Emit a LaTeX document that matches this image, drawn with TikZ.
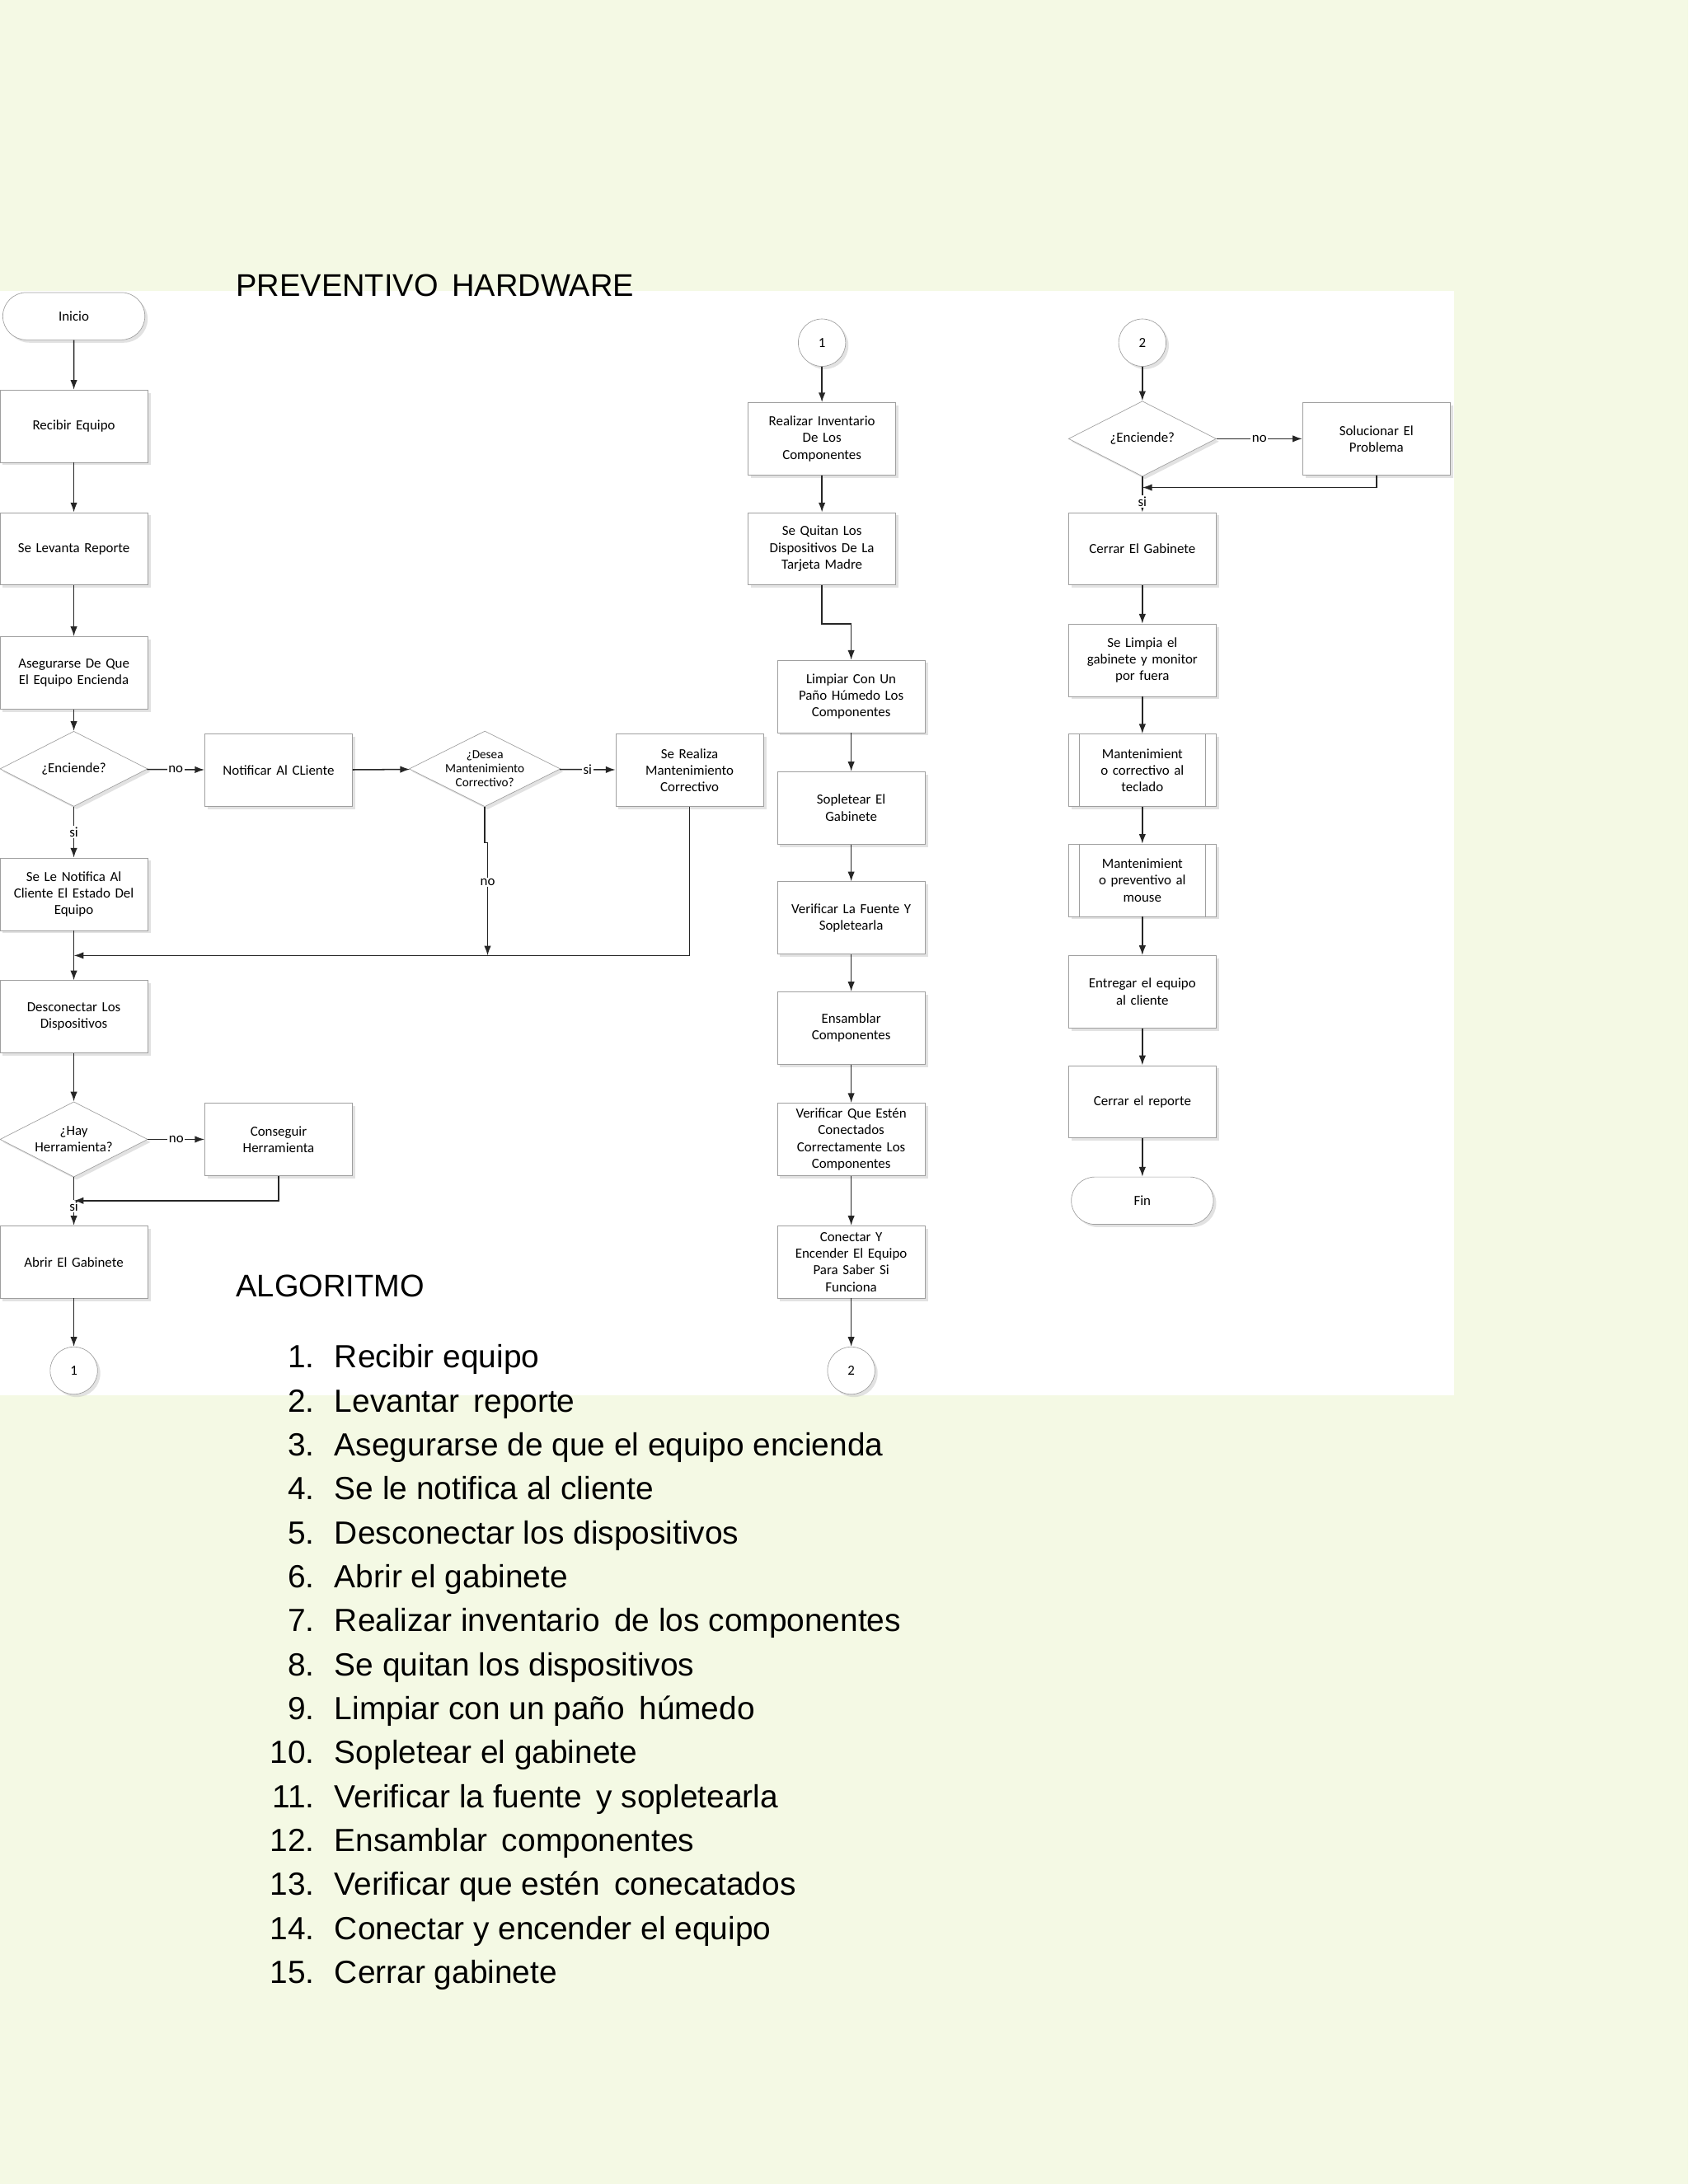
\documentclass[tikz,border=0pt]{standalone}
\usepackage{fontspec}
\setmainfont{Liberation Sans}
\newfontfamily\flow{Carlito}
\usetikzlibrary{shapes.geometric,shapes.misc,shadows,arrows.meta}
\begin{document}
\begin{tikzpicture}[x=1pt,y=-1pt,
 base/.style={draw=gray!75, fill=white, align=center, font=\flow\fontsize{10}{12}\selectfont, drop shadow={shadow xshift=2pt,shadow yshift=-2pt,fill=gray!45}, inner sep=2pt},
 box/.style={base, minimum width=106pt, minimum height=52pt, text width=100pt},
 dia/.style={base, diamond, aspect=2, minimum width=106pt, minimum height=54pt, inner sep=0pt},
 term/.style={base, rounded rectangle, minimum width=106pt, minimum height=34pt},
 con/.style={base, circle, minimum size=34pt, inner sep=0pt},
 ar/.style={draw=gray!30!black, line width=0.9pt, -{Latex[length=7pt,width=5pt]}},
 ln/.style={draw=gray!30!black, line width=0.9pt},
 lab/.style={fill=white, font=\flow\fontsize{10}{12}\selectfont, inner sep=1pt}]
\useasboundingbox (0,0) rectangle (1212,1568);
\fill[fill={rgb,255:red,244;green,249;blue,228}] (0,0) rectangle (1212,1568);
\fill[white] (0,209) rectangle (1044,1002);
\node[anchor=base west, font=\fontsize{22.5}{26}\selectfont] (t1) at (166,213) {PREVENTIVO\, HARDWARE};
\node[anchor=base west, font=\fontsize{22.5}{26}\selectfont] (t2) at (166,931) {ALGORITMO};
\foreach \i/\t in {1/Recibir equipo,2/Levantar\, reporte,3/Asegurarse de que el equipo encienda,4/Se le notifica al cliente,5/Desconectar los dispositivos,6/Abrir el gabinete,7/Realizar inventario\, de los componentes,8/Se quitan los dispositivos,9/Limpiar con un pa\~no\, h\'umedo,10/Sopletear el gabinete,11/Verificar la fuente\, y sopletearla,12/Ensamblar\, componentes,13/Verificar que est\'en\, conecatados,14/Conectar y encender el equipo,15/Cerrar gabinete}{
 \node[anchor=base east, font=\fontsize{23}{26}\selectfont, inner sep=0pt] (n\i) at (226,{982+(\i-1)*31.57}) {\i.};
 \node[anchor=base west, font=\fontsize{23}{26}\selectfont, inner sep=0pt] (l\i) at (240,{982+(\i-1)*31.57}) {\t};
}
% column 1
\node[term] (ini) at (53,227) {Inicio};
\node[box] (rec) at (53,306) {Recibir Equipo};
\node[box] (lev) at (53,394) {Se Levanta Reporte};
\node[box] (ase) at (53,483) {Asegurarse De Que\\El Equipo Encienda};
\node[dia] (enc) at (53,552) {¿Enciende?};
\node[box] (not) at (53,642) {Se Le Notifica Al\\Cliente El Estado Del\\Equipo};
\node[box] (des) at (53,730) {Desconectar Los\\Dispositivos};
\node[dia] (hay) at (53,818) {¿Hay\\Herramienta?};
\node[box] (abr) at (53,906) {Abrir El Gabinete};
\node[con] (c1a) at (53,984) {1};
\node[box] (ncl) at (200,553) {Notificar Al CLiente};
\node[dia, font=\flow\fontsize{9}{10}\selectfont] (dmc) at (348,552) {¿Desea\\Mantenimiento\\Correctivo?};
\node[box] (srm) at (495,553) {Se Realiza\\Mantenimiento\\Correctivo};
\node[box] (cons) at (200,818) {Conseguir\\Herramienta};
% column 2
\node[con] (c1b) at (590,246) {1};
\node[box] (inv) at (590,315) {Realizar Inventario\\De Los\\Componentes};
\node[box] (qui) at (590,394) {Se Quitan Los\\Dispositivos De La\\Tarjeta Madre};
\node[box] (lim) at (611,500) {Limpiar Con Un\\Paño Húmedo Los\\Componentes};
\node[box] (sop) at (611,580) {Sopletear El\\Gabinete};
\node[box] (vfu) at (611,659) {Verificar La Fuente Y\\Sopletearla};
\node[box] (ens) at (611,738) {Ensamblar\\Componentes};
\node[box] (vqe) at (611,818) {Verificar Que Estén\\Conectados\\Correctamente Los\\Componentes};
\node[box] (cye) at (611,906) {Conectar Y\\Encender El Equipo\\Para Saber Si\\Funciona};
\node[con] (c2a) at (611,984) {2};
% column 3
\node[con] (c2b) at (820,246) {2};
\node[dia] (enc2) at (820,315) {¿Enciende?};
\node[box] (sol) at (988,315) {Solucionar El\\Problema};
\node[box] (ceg) at (820,394) {Cerrar El Gabinete};
\node[box] (slg) at (820,474) {Se Limpia el\\gabinete y monitor\\por fuera};
\node[box, text width=80pt] (mc) at (820,553) {Mantenimient\\o correctivo al\\teclado};
\node[box, text width=80pt] (mp) at (820,632) {Mantenimient\\o preventivo al\\mouse};
\node[box] (ent) at (820,712) {Entregar el equipo\\al cliente};
\node[box] (cer) at (820,791) {Cerrar el reporte};
\node[term] (fin) at (820,862) {Fin};
\foreach \n in {mc,mp}{
 \draw[gray!75] ([xshift=8pt]\n.north west) -- ([xshift=8pt]\n.south west);
 \draw[gray!75] ([xshift=-8pt]\n.north east) -- ([xshift=-8pt]\n.south east);
}
% coordinates
\coordinate (j1) at (53,686);
\coordinate (j2) at (53,862);
\coordinate (j3) at (820,350);
% edges col 1
\draw[ar] (ini) -- (rec);
\draw[ar] (rec) -- (lev);
\draw[ar] (lev) -- (ase);
\draw[ar] (ase) -- (enc);
\draw[ar] (enc) -- node[lab]{no} (ncl);
\draw[ar] (ncl) -- (dmc);
\draw[ar] (dmc) -- node[lab]{si} (srm);
\draw[ar] (enc) -- node[lab]{si} (not);
\draw[ar] (dmc.south) -- (348,605) -- (350,605) -- node[lab,pos=0.35]{no} (350,686);
\draw[ar] (srm.south) |- (j1);
\draw[ar] (not) -- (des);
\draw[ar] (des) -- (hay);
\draw[ar] (hay) -- node[lab]{no} (cons);
\draw[ar] (hay) -- node[lab,pos=0.6]{si} (abr);
\draw[ar] (cons.south) |- (j2);
\draw[ar] (abr) -- (c1a);
% col 2
\draw[ar] (c1b) -- (inv);
\draw[ar] (inv) -- (qui);
\draw[ar] (qui.south) -- (590,448) -| (lim.north);
\draw[ar] (lim) -- (sop);
\draw[ar] (sop) -- (vfu);
\draw[ar] (vfu) -- (ens);
\draw[ar] (ens) -- (vqe);
\draw[ar] (vqe) -- (cye);
\draw[ar] (cye) -- (c2a);
% col 3
\draw[ar] (c2b) -- (enc2);
\draw[ar] (enc2) -- node[lab]{no} (sol);
\draw[ar] (sol.south) |- (j3);
\draw[ar] (enc2) -- node[lab,pos=0.7]{si} (ceg);
\draw[ar] (ceg) -- (slg);
\draw[ar] (slg) -- (mc);
\draw[ar] (mc) -- (mp);
\draw[ar] (mp) -- (ent);
\draw[ar] (ent) -- (cer);
\draw[ar] (cer) -- (fin);
\end{tikzpicture}
\end{document}
